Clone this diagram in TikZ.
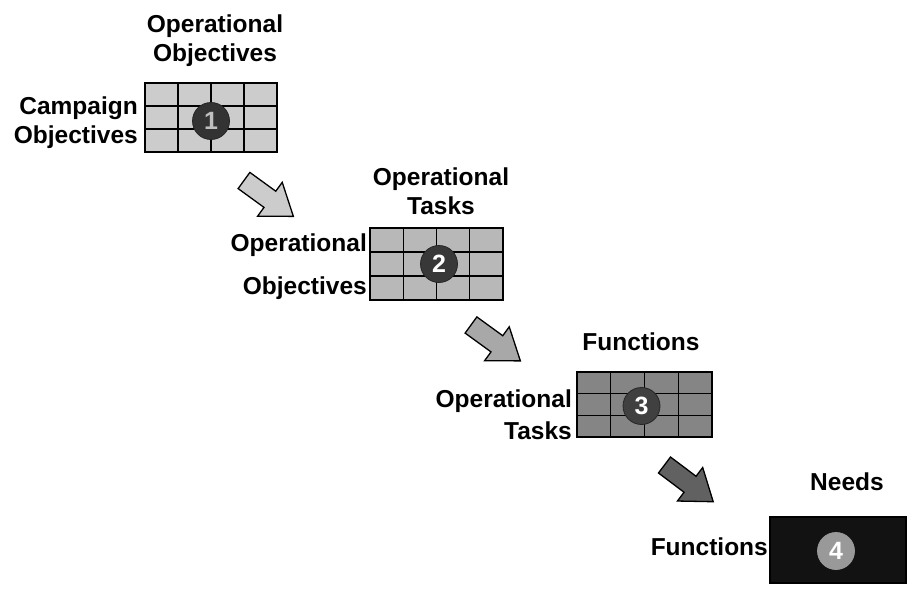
\documentclass[tikz,border=0pt]{standalone}
\usepackage{fontspec}
\setmainfont{Liberation Sans}
\usetikzlibrary{calc}

\definecolor{boxA}{gray}{0.80}
\definecolor{boxB}{gray}{0.72}
\definecolor{boxC}{gray}{0.52}
\definecolor{boxD}{gray}{0.07}
\definecolor{arrA}{gray}{0.80}
\definecolor{arrB}{gray}{0.66}
\definecolor{arrC}{gray}{0.38}

\begin{document}
\begin{tikzpicture}[x=1pt,y=1pt,
  matrixbox/.style={draw=black, line width=1.6pt, inner sep=0pt},
  gridded/.style={path picture={
    \foreach \f in {0.25,0.5,0.75}
      \draw[line width=1.1pt]
        ($(path picture bounding box.south west)!\f!(path picture bounding box.south east)$) --
        ($(path picture bounding box.north west)!\f!(path picture bounding box.north east)$);
    \foreach \f in {0.3333,0.6667}
      \draw[line width=1.1pt]
        ($(path picture bounding box.south west)!\f!(path picture bounding box.north west)$) --
        ($(path picture bounding box.south east)!\f!(path picture bounding box.north east)$);
  }},
  badge/.style={circle, draw=black!85, line width=0.8pt, minimum size=37pt, inner sep=0pt,
    font=\fontsize{25}{25}\selectfont\bfseries},
  lbl/.style={inner sep=0pt, font=\fontsize{24.5}{29}\selectfont\bfseries},
  pics/blockarrow/.style={code={
    \filldraw[fill=#1, draw=black, line width=1.3pt, line join=miter]
      (0,10) -- (32,10) -- (32,21) -- (61,0) -- (32,-21) -- (32,-10) -- (0,-10) -- cycle;
  }}
]
\useasboundingbox (0,0) rectangle (911,-592);

% step 1
\node[matrixbox, gridded, fill=boxA, minimum width=132pt, minimum height=69pt] (b1) at (211,-117.5) {};
\node[badge, fill=black!80, text=black!25] (c1) at (211,-121) {1};
\node[lbl, align=center, anchor=north] (t1) at (215,-15) {Operational\\Objectives};
\node[lbl, align=right, anchor=north east] (l1) at (138,-97) {Campaign\\Objectives};

% step 2
\node[matrixbox, gridded, fill=boxB, minimum width=133pt, minimum height=72pt] (b2) at (436.5,-264) {};
\node[badge, fill=black!78, text=white] (c2) at (439,-264) {2};
\node[lbl, align=center, anchor=north] (t2) at (441,-168) {Operational\\Tasks};
\node[lbl, align=right, anchor=north east] (l2) at (367,-234) {Operational\\[14pt]Objectives};

% step 3
\node[matrixbox, gridded, fill=boxC, minimum width=135pt, minimum height=65pt] (b3) at (644.5,-404.5) {};
\node[badge, fill=black!75, text=white] (c3) at (641.5,-406) {3};
\node[lbl, anchor=north] (t3) at (641,-333) {Functions};
\node[lbl, align=right, anchor=north east] (l3) at (572,-390) {Operational\\[3pt]Tasks};

% step 4
\node[matrixbox, fill=boxD, minimum width=136pt, minimum height=66pt] (b4) at (838,-550) {};
\node[badge, fill=black!40, draw=black!40, text=white] (c4) at (836,-551) {4};
\node[lbl, anchor=north] (t4) at (847,-473) {Needs};
\node[lbl, anchor=north east] (l4) at (768,-538) {Functions};

% transition arrows
\pic[rotate=-36] at (244,-180.5) {blockarrow=arrA};
\pic[rotate=-36] at (471,-325) {blockarrow=arrB};
\pic[rotate=-37] at (664.5,-465) {blockarrow=arrC};
\end{tikzpicture}
\end{document}
